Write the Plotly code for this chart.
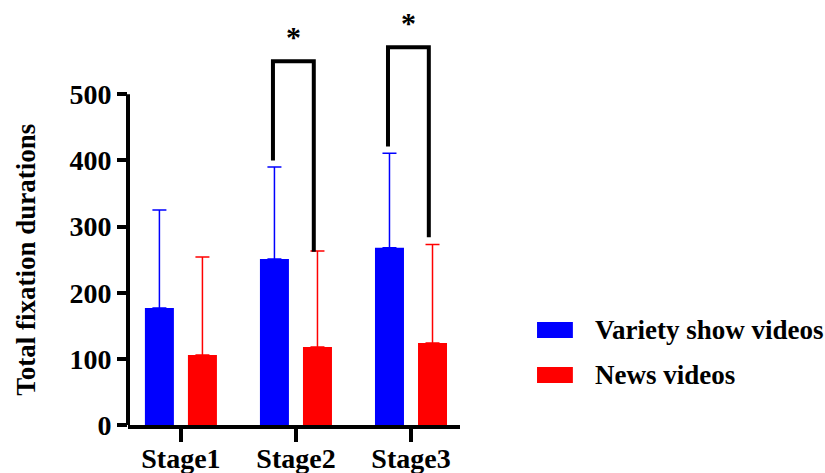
import plotly.graph_objects as go

categories = ["Stage1", "Stage2", "Stage3"]
series_names = ["Variety show videos", "News videos"]
series_colors = ["#0000FF", "#FF0000"]
variety_mean = [177, 251, 268]
variety_sd = [148, 139, 143]
news_mean = [106, 118, 124]
news_sd = [148, 145, 149]
y_ticks = [0, 100, 200, 300, 400, 500]
y_title = "Total fixation durations"

# significance brackets
sig_index = [1, 2]
bracket_top = [550, 571]
bracket_left_bottom = [400, 421]
bracket_right_bottom = [262, 284]
sig_label = ["*", "*"]

FONT = "Liberation Serif"
FS = 28

fig = go.Figure()
for name, color, mean, sd in [
    (series_names[0], series_colors[0], variety_mean, variety_sd),
    (series_names[1], series_colors[1], news_mean, news_sd),
]:
    fig.add_trace(go.Bar(
        x=categories, y=mean, name=name, marker_color=color,
        marker_line_width=0,
        error_y=dict(type="data", symmetric=False, array=sd,
                     arrayminus=[0] * len(sd), color=color,
                     thickness=1.5, width=7),
        showlegend=False,
    ))

shapes = []
annotations = []
for i, top, lb, rb, lab in zip(sig_index, bracket_top, bracket_left_bottom,
                               bracket_right_bottom, sig_label):
    xl = i - 0.2
    xr = i + 0.155
    shapes.append(dict(type="path", xref="x", yref="y",
                       path=f"M {xl} {lb} L {xl} {top} L {xr} {top} L {xr} {rb}",
                       line=dict(color="black", width=4)))
    annotations.append(dict(x=(xl + xr) / 2, y=top, xref="x", yref="y",
                            text=lab, showarrow=False, yanchor="bottom",
                            yshift=6,
                            font=dict(family=FONT, size=30, color="black")))

# y axis line from 0 to 500
shapes.append(dict(type="line", xref="paper", yref="y", x0=0, x1=0,
                   y0=0, y1=y_ticks[-1], line=dict(color="black", width=4)))

# y axis title, centred on the 0-500 axis line
annotations.append(dict(x=-0.307, y=y_ticks[-1] / 2, xref="paper", yref="y",
                        text=y_title, textangle=-90, showarrow=False,
                        xanchor="center", yanchor="middle",
                        font=dict(family=FONT, size=27, color="black",
                                  weight="bold")))

# manual legend
legend_y = [0.226, 0.119]
for name, color, ly in zip(series_names, series_colors, legend_y):
    shapes.append(dict(type="rect", xref="paper", yref="paper",
                       x0=1.232, x1=1.340, y0=ly - 0.019, y1=ly + 0.019,
                       fillcolor=color, line=dict(width=0)))
    annotations.append(dict(x=1.40, y=ly, xref="paper", yref="paper",
                            text=name, showarrow=False, xanchor="left",
                            yanchor="middle",
                            font=dict(family=FONT, size=27, color="black",
                                      weight="bold")))

fig.update_layout(
    width=825, height=473,
    margin=dict(l=128, r=365, t=5, b=48, autoexpand=False),
    paper_bgcolor="white", plot_bgcolor="white",
    barmode="group", bargap=0.252, bargroupgap=0.326,
    shapes=shapes, annotations=annotations,
    font=dict(family=FONT, size=FS, color="black", weight="bold"),
    xaxis=dict(range=[-0.46, 2.426], showline=True, linewidth=4,
               linecolor="black", ticks="outside", ticklen=13, tickwidth=4,
               tickcolor="black", showgrid=False, zeroline=False,
               automargin=False, ticklabelstandoff=-8,
               tickfont=dict(family=FONT, size=FS, weight="bold")),
    yaxis=dict(range=[0, 635], tickvals=y_ticks, showline=False,
               ticks="outside", ticklen=10, tickwidth=4, tickcolor="black",
               showgrid=False, zeroline=False, automargin=False,
               tickfont=dict(family=FONT, size=FS, weight="bold")),
)

fig.write_html("out.html")
